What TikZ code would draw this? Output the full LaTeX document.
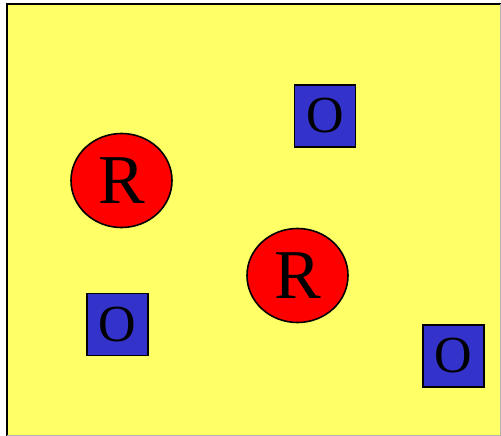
\documentclass[tikz,border=0pt]{standalone}
\usepackage{fontspec}
\setmainfont{Liberation Serif}
\usetikzlibrary{shapes.geometric}
\definecolor{bgyellow}{HTML}{FFFF66}
\definecolor{rred}{HTML}{FF0000}
\definecolor{oblue}{HTML}{3333CC}
\tikzset{
  rnode/.style={ellipse, draw=black, line width=1.6pt, fill=rred, minimum width=101pt, minimum height=94pt, inner sep=0pt, font=\fontsize{70}{70}\selectfont},
  onode/.style={rectangle, draw=black, line width=1.6pt, fill=oblue, minimum width=61pt, minimum height=62pt, inner sep=0pt, font=\fontsize{52}{52}\selectfont},
}
\begin{document}
\begin{tikzpicture}[x=1pt,y=-1pt]
\useasboundingbox (0,0) rectangle (501,436);
\fill[bgyellow] (7,4) rectangle (501,436);
\draw[black, line width=2.2pt] (7,436) -- (7,4) -- (501,4);
\draw[gray!60, line width=0.8pt] (500.5,4) -- (500.5,435.5) -- (7,435.5);
\node[rnode] (r1) at (121.5,180.5) {R};
\node[rnode] (r2) at (297.5,275.5) {R};
\node[onode] (o1) at (325,116) {O};
\node[onode] (o2) at (117.5,324.5) {O};
\node[onode] (o3) at (453.5,356) {O};
\end{tikzpicture}
\end{document}
